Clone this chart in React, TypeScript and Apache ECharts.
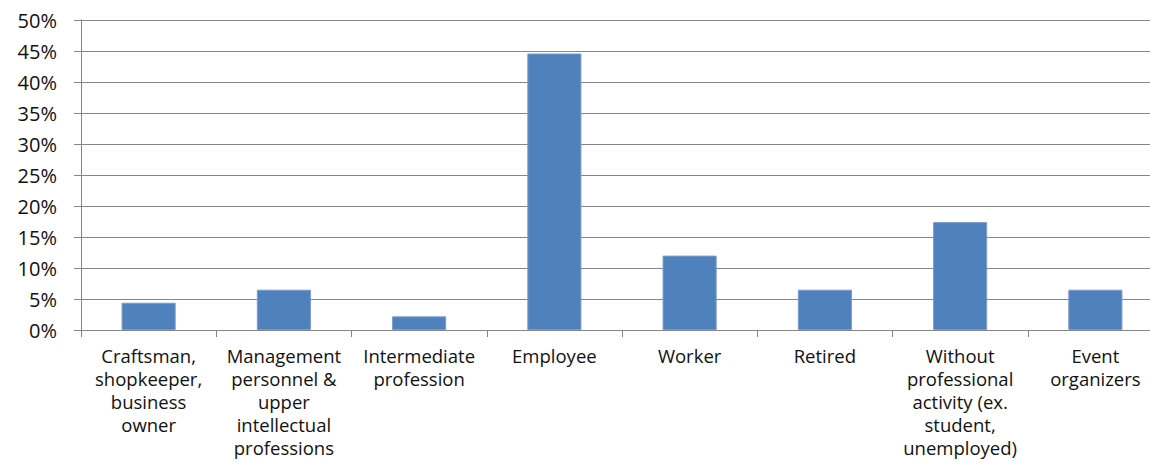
import React, { useEffect, useRef } from "react";
import * as echarts from "echarts";

const categories = [
  "Craftsman,\nshopkeeper,\nbusiness\nowner",
  "Management\npersonnel &\nupper\nintellectual\nprofessions",
  "Intermediate\nprofession",
  "Employee",
  "Worker",
  "Retired",
  "Without\nprofessional\nactivity (ex.\nstudent,\nunemployed)",
  "Event\norganizers",
];
const values = [4.4, 6.5, 2.2, 44.6, 12.0, 6.5, 17.4, 6.5];
const yTicks = { min: 0, max: 50, interval: 5 };

const FONT = "'Open Sans', 'Noto Sans', sans-serif";

export default function App() {
  const ref = useRef<HTMLDivElement>(null);
  useEffect(() => {
    document.body.style.margin = "0";
    document.body.style.overflow = "hidden";
    const chart = echarts.init(ref.current!, null, { renderer: "svg" });
    chart.setOption({
      animation: false,
      backgroundColor: "#ffffff",
      grid: {
        left: 81,
        top: 20,
        width: 1082,
        height: 310,
        containLabel: false,
        outerBoundsMode: "none",
      },
      xAxis: {
        type: "category",
        data: categories,
        axisLine: { show: true, lineStyle: { color: "#868686", width: 1 } },
        axisTick: { show: true, length: 7, lineStyle: { color: "#868686" } },
        axisLabel: {
          interval: 0,
          margin: 14,
          color: "#111111",
          fontFamily: FONT,
          fontSize: 18.5,
          lineHeight: 23,
          align: "center",
        },
      },
      yAxis: {
        type: "value",
        min: yTicks.min,
        max: yTicks.max,
        interval: yTicks.interval,
        axisLine: { show: true, lineStyle: { color: "#868686", width: 1 } },
        axisTick: { show: true, length: 7, lineStyle: { color: "#868686" } },
        splitLine: { show: true, lineStyle: { color: "#868686", width: 1 } },
        axisLabel: {
          formatter: "{value}%",
          margin: 24,
          color: "#111111",
          fontFamily: FONT,
          fontSize: 20,
        },
      },
      series: [
        {
          type: "bar",
          data: values,
          barWidth: "40%",
          itemStyle: { color: "#4F81BD", borderColor: "#7a9ccc", borderWidth: 1 },
        },
      ],
    });
    return () => chart.dispose();
  }, []);
  return <div ref={ref} style={{ width: 1150, height: 468 }} />;
}
